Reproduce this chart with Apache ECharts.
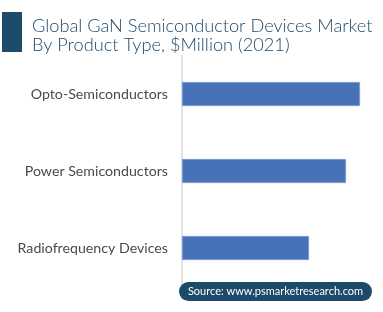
<!DOCTYPE html>
<html><head><meta charset="utf-8">
<script src="https://cdn.jsdelivr.net/npm/echarts@6/dist/echarts.min.js"></script>
<style>html,body{margin:0;padding:0;background:#fff}#c{width:383px;height:312px}</style>
</head><body><div id="c"></div>
<script>
const categories = ['Opto-Semiconductors', 'Power Semiconductors', 'Radiofrequency Devices'];
const values = [178, 164, 127];
const titleLines = ['Global GaN Semiconductor Devices Market', 'By Product Type, $Million (2021)'];
const sourceText = 'Source: www.psmarketresearch.com';

const chart = echarts.init(document.getElementById('c'), null, {renderer: 'canvas'});
chart.setOption({
  animation: false,
  backgroundColor: '#fff',
  title: {
    text: titleLines.join('\n'),
    left: 27, top: 12,
    textStyle: {fontFamily: 'Lato', fontSize: 18.2, fontWeight: 300, color: '#234a6a', lineHeight: 19}
  },
  grid: {left: 182, right: 1, top: 55.5, bottom: 25.5, containLabel: false},
  xAxis: {type: 'value', min: 0, max: 200, show: false},
  yAxis: {
    type: 'category', data: categories, inverse: true,
    axisLine: {show: true, lineStyle: {color: '#e3e3e3', width: 2}},
    axisTick: {show: false},
    axisLabel: {fontFamily: 'Lato', fontSize: 14.2, color: '#4a4a4a', margin: 14}
  },
  series: [{
    type: 'bar', data: values, barWidth: 24,
    itemStyle: {color: '#4872b8', borderColor: '#7fa0d6', borderWidth: 0.6}
  }],
  graphic: [
    {type: 'rect', shape: {x: 2, y: 12, width: 20, height: 40}, style: {fill: '#1c4a6b'}},
    {type: 'rect', shape: {x: 179, y: 282, width: 193, height: 19, r: 9.5}, style: {fill: '#1c4a6b'}, z: 10},
    {type: 'text', x: 275.5, y: 291.5, style: {text: sourceText, fill: '#fff', font: '11px Lato', align: 'center', verticalAlign: 'middle'}, z: 11}
  ]
});
</script></body></html>
